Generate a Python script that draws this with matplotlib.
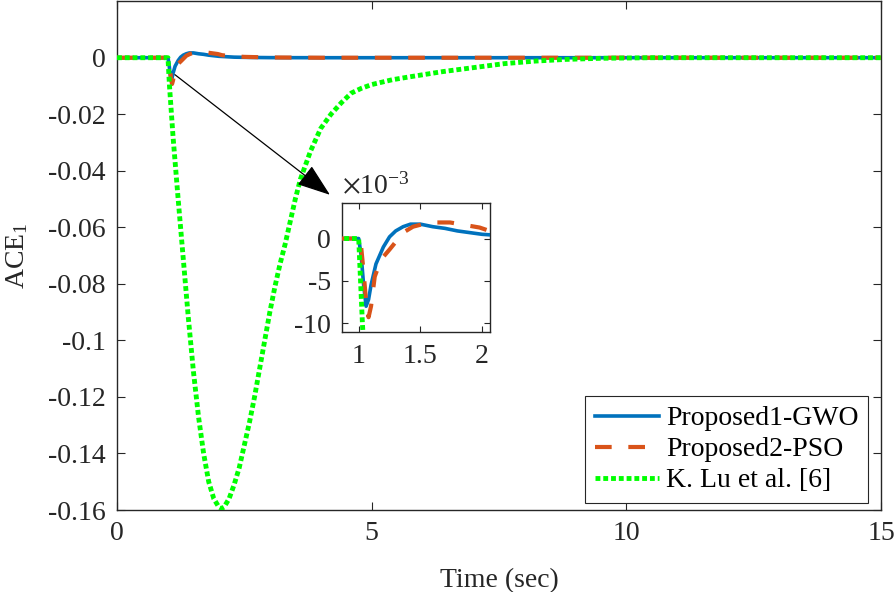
import matplotlib
matplotlib.use("Agg")
import matplotlib.pyplot as plt
import numpy as np

plt.rcParams['font.family'] = ['Liberation Serif', 'DejaVu Serif']
plt.rcParams['mathtext.fontset'] = 'stix'
plt.rcParams['axes.unicode_minus'] = False

# ACE_1 response
t_gwo = [0, 1.0, 1.02, 1.04, 1.06, 1.08, 1.10, 1.14, 1.20, 1.25, 1.30, 1.36, 1.42,
         1.50, 1.60, 1.70, 1.80, 1.90, 2.00, 2.10, 2.30, 2.60, 3.00, 4.00, 15]
y_gwo = [0, 0, -0.0020, -0.0055, -0.0080, -0.0072, -0.0055, -0.0030, -0.0010, 0.0002,
         0.0009, 0.0014, 0.0017, 0.0017, 0.0014, 0.0012, 0.0009, 0.0007, 0.0005,
         0.0004, 0.0002, 0.0001, 0.00003, 0, 0]

t_pso = [0, 1.0, 1.02, 1.04, 1.06, 1.08, 1.10, 1.13, 1.18, 1.25, 1.30, 1.36, 1.44,
         1.52, 1.62, 1.74, 1.86, 1.98, 2.06, 2.20, 2.50, 3.00, 4.00, 15]
y_pso = [0, 0, -0.0010, -0.0040, -0.0075, -0.0093, -0.0080, -0.0045, -0.0025, -0.0013,
         -0.0004, 0.0007, 0.0014, 0.0017, 0.0019, 0.0019, 0.0016, 0.0013, 0.0009,
         0.0006, 0.0003, 0.0001, 0, 0]

t_lu = [0, 1.0, 1.03, 1.1, 1.2, 1.3, 1.4, 1.5, 1.6, 1.7, 1.8, 1.9, 2.0, 2.05, 2.1,
        2.2, 2.3, 2.4, 2.5, 2.6, 2.7, 2.8, 2.9, 3.0, 3.1, 3.2, 3.3, 3.4, 3.5, 3.6,
        3.7, 3.8, 3.9, 4.0, 4.2, 4.4, 4.6, 4.8, 5.0, 5.4, 5.8, 6.4, 7.0, 7.6, 8.2,
        8.8, 9.5, 10.5, 15]
y_lu = [0, 0, -0.010, -0.028, -0.050, -0.071, -0.092, -0.111, -0.127, -0.140,
        -0.150, -0.156, -0.159, -0.1595, -0.159, -0.156, -0.151, -0.145, -0.137,
        -0.129, -0.120, -0.110, -0.100, -0.090, -0.081, -0.073, -0.066, -0.058,
        -0.050, -0.043, -0.038, -0.033, -0.029, -0.025, -0.020, -0.016, -0.0125,
        -0.0108, -0.0095, -0.0078, -0.0066, -0.0049, -0.0035, -0.0021, -0.0012,
        -0.0006, -0.0002, 0, 0]

labels = ['Proposed1-GWO', 'Proposed2-PSO', 'K. Lu et al. [6]']
c_blue, c_orange, c_green = '#0072BD', '#D95319', '#00FF00'
txt = '#262626'
fs = 20

fig = plt.figure(figsize=(8.94, 5.92), dpi=100)
ax = fig.add_axes([0.1309, 0.1385, 0.8546, 0.8595])

def draw(a, scale=1.0):
    a.plot(t_gwo, np.array(y_gwo) * scale, color=c_blue, lw=2.6, zorder=3)
    a.plot(t_pso, np.array(y_pso) * scale, color=c_orange, lw=3.0,
           linestyle=(0, (4, 4)), zorder=4)
    a.plot(t_lu, np.array(y_lu) * scale, color=c_green, lw=3.5,
           linestyle=(0, (1, 0.6)), zorder=5)

draw(ax)
ax.set_xlim(0, 15)
ax.set_ylim(-0.16, 0.02)
ax.set_xticks([0, 5, 10, 15])
ax.set_yticks(np.arange(-0.16, 0.001, 0.02))
ax.set_yticklabels(['-0.16', '-0.14', '-0.12', '-0.1', '-0.08', '-0.06',
                    '-0.04', '-0.02', '0'])
ax.tick_params(direction='in', top=True, right=True, length=6, width=0.8,
               labelsize=fs, colors=txt, pad=8)
for s in ax.spines.values():
    s.set_linewidth(1.0)
    s.set_color(txt)
ax.set_xlabel('Time (sec)', fontsize=fs, color=txt, labelpad=16)
ax.set_ylabel(r'ACE$_{\mathregular{1}}$', fontsize=fs, color=txt, labelpad=13)

leg = ax.legend(labels, loc='lower right', fontsize=fs, frameon=True,
                fancybox=False, framealpha=1, edgecolor=txt, handlelength=2.3,
                handletextpad=0.25, labelspacing=0.2, borderpad=0.35,
                borderaxespad=0, bbox_to_anchor=(0.9709, 0.1503),
                bbox_transform=fig.transFigure)
leg.get_frame().set_linewidth(0.8)

ax.annotate('', xy=(4.18, -0.0485), xytext=(1.137, -0.006),
            arrowprops=dict(arrowstyle='-|>,head_length=1.4,head_width=0.5',
                            mutation_scale=15, color='k', lw=0.9,
                            shrinkA=0, shrinkB=0), zorder=6)

ins = fig.add_axes([0.3826, 0.4384, 0.1656, 0.2187])
draw(ins, 1000)
ins.set_xlim(0.865, 2.065)
ins.set_ylim(-11.1, 4.2)
ins.set_xticks([1, 1.5, 2])
ins.set_xticklabels(['1', '1.5', '2'])
ins.set_yticks([-10, -5, 0])
ins.set_yticklabels(['-10', '-5', '0'])
ins.tick_params(direction='in', top=True, right=True, length=4, width=0.8,
                labelsize=fs, colors=txt, pad=8)
for s in ins.spines.values():
    s.set_linewidth(1.0)
    s.set_color(txt)
ins.text(0.0, 1.03, r'$\times\mathregular{10^{-3}}$', transform=ins.transAxes,
         fontsize=fs, color=txt, ha='left', va='bottom')

fig.savefig('out.png', dpi=100)
